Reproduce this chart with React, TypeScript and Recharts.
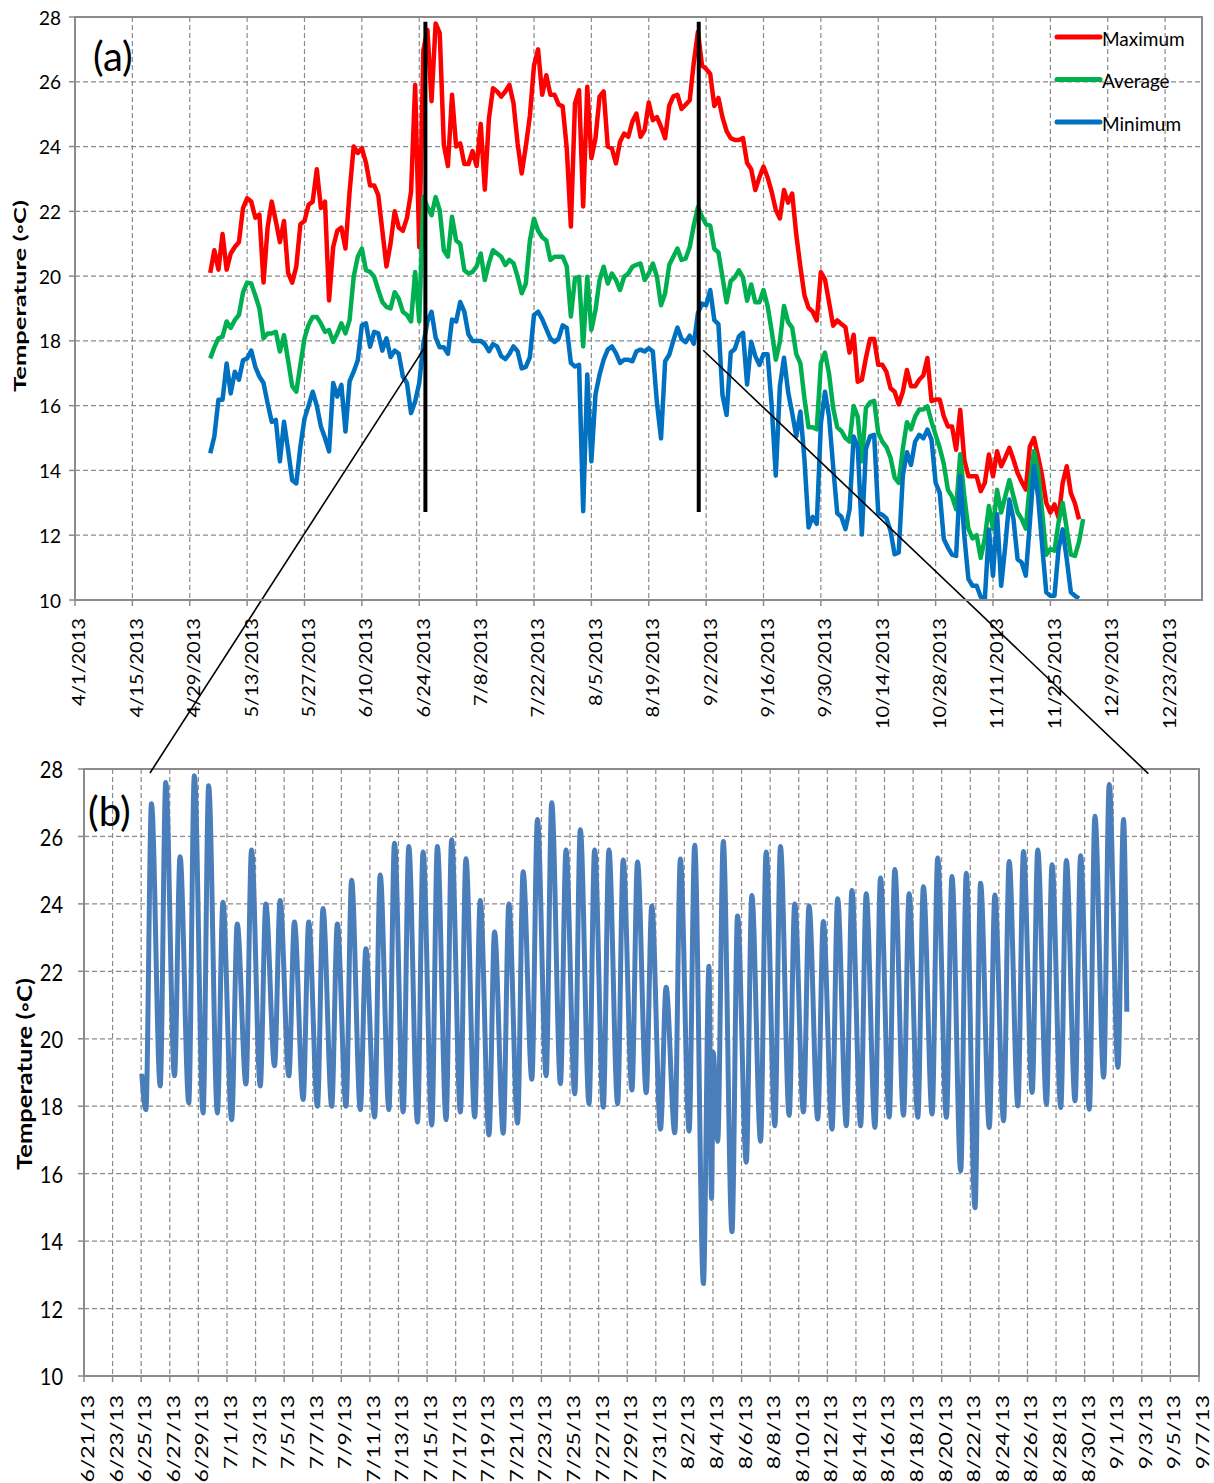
import React from 'react';
import { LineChart, Line, XAxis, YAxis, CartesianGrid, ReferenceLine, ReferenceArea, Legend } from 'recharts';

const FONT = "Lato, 'Open Sans', 'DejaVu Sans', sans-serif";
const GRID = '#8b8b8b';

const Y_TICKS = [10, 12, 14, 16, 18, 20, 22, 24, 26, 28];

// ---------- Panel (a): daily values, x = days since 4/1/2013 ----------
const A_TICK_LABELS = [
  '4/1/2013', '4/15/2013', '4/29/2013', '5/13/2013', '5/27/2013', '6/10/2013', '6/24/2013',
  '7/8/2013', '7/22/2013', '8/5/2013', '8/19/2013', '9/2/2013', '9/16/2013', '9/30/2013',
  '10/14/2013', '10/28/2013', '11/11/2013', '11/25/2013', '12/9/2013', '12/23/2013',
];
const A_TICK_STEP = 14;
const A_X_MAX = 275;
const A_FIRST_DAY = 33; // 5/4/2013
const LEGEND_ORDER = ['Maximum', 'Average', 'Minimum'];

// 5/4 - 6/24
const MAX_MAY_JUN = [
  20.1, 20.8, 20.2, 21.3, 20.2, 20.7, 20.9, 21.05, 22.1, 22.4,
  22.3, 21.8, 21.9, 19.8, 21.5, 22.3, 21.7, 21.05, 21.7, 20.1,
  19.8, 20.3, 21.6, 21.7, 22.2, 22.3, 23.3, 22.1, 22.3, 19.25,
  20.9, 21.4, 21.5, 20.85, 22.6, 24.0, 23.8, 23.95, 23.5, 22.8,
  22.8, 22.5, 21.4, 20.3, 21.0, 22.0, 21.5, 21.4, 21.8, 22.6,
  25.9, 20.9,
];
const AVG_MAY_JUN = [
  17.46, 17.8, 18.08, 18.13, 18.6, 18.4, 18.64, 18.8, 19.5, 19.8,
  19.77, 19.4, 19.0, 18.08, 18.23, 18.23, 18.28, 17.67, 18.18, 17.4,
  16.6, 16.43, 17.26, 18.08, 18.5, 18.74, 18.74, 18.54, 18.28, 18.33,
  17.97, 18.23, 18.54, 18.23, 18.64, 19.98, 20.6, 20.85, 20.18, 20.13,
  19.98, 19.57, 19.2, 19.05, 19.0, 19.5, 19.3, 18.9, 18.8, 18.6,
  20.13, 18.6,
];
const MIN_MAY_JUN = [
  14.53, 15.05, 16.18, 16.18, 17.3, 16.38, 17.05, 16.8, 17.4, 17.46,
  17.7, 17.2, 16.9, 16.7, 16.07, 15.5, 15.56, 14.28, 15.5, 14.63,
  13.7, 13.6, 14.74, 15.6, 16.0, 16.43, 16.0, 15.36, 15.0, 14.59,
  16.7, 16.28, 16.64, 15.2, 16.75, 17.05, 17.4, 18.48, 18.54, 17.82,
  18.28, 18.23, 17.7, 18.08, 17.5, 17.7, 17.6, 16.9, 16.7, 15.77,
  16.13, 16.7,
];
// 6/25 - 8/31
const AVG_JUN_AUG = [
  22.44, 22.13, 21.88, 22.44, 22.03, 20.8,
  20.6, 21.83, 21.1, 21.0, 20.18, 20.08, 20.13, 20.3, 20.7, 19.88,
  20.4, 20.8, 20.7, 20.6, 20.34, 20.5, 20.4, 19.98, 19.47, 19.77,
  21.1, 21.77, 21.4, 21.2, 21.1, 20.5, 20.6, 20.6, 20.6, 20.3, 18.75,
  19.93, 19.98, 17.83, 19.98, 18.34, 18.95, 19.88, 20.29, 19.77, 20.08,
  19.88, 19.57, 19.98, 20.08, 20.29, 20.35, 20.39, 19.88, 20.08, 20.39,
  19.98, 19.1, 19.47, 20.34, 20.6, 20.85, 20.5, 20.54, 20.9, 21.57, 22.13,
];
// 9/2 - 10/25
const MAX_SEP_OCT = [
  26.4, 26.24, 25.25, 25.5, 24.9, 24.48, 24.26, 24.2, 24.2, 24.26,
  23.49, 23.3, 22.66, 23.05, 23.38, 23.05, 22.6, 22.05, 21.78, 22.66,
  22.27, 22.55, 21.28, 20.29, 19.4, 19.02, 18.9, 18.63, 20.12,
  19.9, 19.19, 18.47, 18.63, 18.52, 18.42, 17.64, 18.19, 16.74, 16.8,
  17.48, 18.06, 18.06, 17.26, 17.26, 17.04, 16.54, 16.43, 16.04, 16.43,
  17.1, 16.6, 16.6, 16.8, 16.93,
];
const MIN_SEP_OCT = [
  19.1, 19.57, 18.64, 18.52, 16.32, 15.71, 17.64, 17.75, 18.14, 18.25,
  16.65, 17.97, 17.53, 17.26, 17.59, 17.59, 15.99, 13.84, 16.6, 17.48,
  16.43, 15.77, 15.05, 15.82, 14.33, 12.24, 12.57, 12.35, 15.44,
  16.43, 15.66, 14.11, 12.68, 12.57, 12.19, 12.79, 15.05, 14.72, 12.02,
  14.67, 15.05, 15.1, 12.68, 12.63, 12.52, 12.13, 11.41, 11.47, 13.84,
  14.56, 14.17, 14.89, 15.1, 14.99,
];
// 9/1 - 10/25
const AVG_SEP_OCT = [
  21.83, 21.6, 21.56, 20.84, 20.73, 19.96, 19.19, 19.85, 19.96, 20.18,
  19.96, 19.24, 19.74, 19.19, 19.19, 19.57, 19.08, 18.3, 17.42, 17.97,
  19.08, 18.58, 18.41, 17.59, 17.31, 16.21, 15.33, 15.33, 15.27, 17.31,
  17.64, 16.98, 15.93, 15.33, 15.22, 15.0, 14.89, 15.99, 15.66, 14.28,
  15.93, 16.1, 16.15, 15.16, 14.89, 14.72, 14.39, 13.78, 13.62, 14.67,
  15.49, 15.27, 15.66, 15.88, 15.88,
];
// 10/26 - 12/2
const MAX_NOV = [
  17.47, 16.14, 16.19, 16.19, 15.67, 15.36, 15.36, 14.64, 15.87, 14.33,
  13.82, 13.82, 13.82, 13.36, 13.61, 14.49, 13.82, 14.59, 14.13, 14.4,
  14.7, 14.33, 13.92, 13.65, 13.41, 14.74, 15.0, 14.43, 13.82, 13.0,
  12.7, 12.95, 12.54, 13.61, 14.13, 13.3, 12.98, 12.49,
];
const MIN_NOV = [
  15.26, 14.95, 13.62, 13.31, 11.88, 11.62, 11.4, 11.36, 13.82, 11.98,
  10.65, 10.44, 10.44, 10.1, 10.0, 12.18, 10.75, 12.65, 10.44, 11.67,
  13.1, 12.49, 11.26, 11.16, 10.75, 12.39, 14.13, 13.2, 11.67, 10.24,
  10.13, 10.13, 11.57, 12.18, 11.26, 10.24, 10.13, 10.05,
];
// 10/26 - 12/3
const AVG_NOV = [
  15.98, 15.5, 15.1, 14.7, 14.2, 13.4, 13.2, 12.8, 14.5, 13.2,
  12.2, 11.9, 12.0, 11.3, 11.9, 12.9, 12.2, 13.4, 12.7, 13.2,
  13.7, 13.2, 12.7, 12.5, 12.2, 13.6, 14.6, 14.0, 12.7, 11.4,
  11.57, 11.52, 12.4, 13.0, 12.2, 11.4, 11.36, 11.8, 12.5,
];

// ---------- Panel (b): 6/25 - 9/1 daily extremes, x = days since 6/21/2013 ----------
const B_TICK_LABELS = [
  '6/21/13', '6/23/13', '6/25/13', '6/27/13', '6/29/13',
  '7/1/13', '7/3/13', '7/5/13', '7/7/13', '7/9/13', '7/11/13', '7/13/13', '7/15/13',
  '7/17/13', '7/19/13', '7/21/13', '7/23/13', '7/25/13', '7/27/13', '7/29/13', '7/31/13',
  '8/2/13', '8/4/13', '8/6/13', '8/8/13', '8/10/13', '8/12/13', '8/14/13', '8/16/13',
  '8/18/13', '8/20/13', '8/22/13', '8/24/13', '8/26/13', '8/28/13', '8/30/13',
  '9/1/13', '9/3/13', '9/5/13', '9/7/13',
];
const B_TICK_STEP = 2;
const B_X_MAX = 78;
const B_FIRST_DAY = 4; // 6/25
const B_MIN_TIME = 0.33; // time of day of the daily minimum
const B_MAX_TIME = 0.72; // time of day of the daily maximum

const B_DAILY_MAX = [
  26.97, 27.6, 25.4, 27.8, 27.5, 24.05, 23.4, 25.6, 24.0, 24.1,
  23.46, 23.46, 23.86, 23.4, 24.7, 22.67, 24.86, 25.8, 25.7, 25.54,
  25.7, 25.9, 25.34, 24.1, 23.17, 24.0, 24.95, 26.5, 27.0, 25.6,
  26.2, 25.6, 25.6, 25.3, 25.24, 23.94, 21.53, 25.33, 25.74, 22.15,
  25.85, 23.64, 24.25, 25.54, 25.7, 24.0, 23.94, 23.48, 24.15, 24.4,
  24.3, 24.77, 25.02, 24.3, 24.51, 25.36, 24.81, 24.91, 24.61, 24.26,
  25.26, 25.55, 25.6, 25.16, 25.29, 25.43, 26.6, 27.54, 26.5,
];
const B_DAILY_MIN = [
  17.9, 18.6, 18.9, 18.1, 17.8, 17.8, 17.6, 18.66, 18.6, 19.2,
  18.9, 18.2, 18.0, 18.0, 18.0, 17.9, 17.68, 17.9, 17.83, 17.53,
  17.44, 17.6, 17.83, 17.68, 17.15, 17.2, 17.5, 18.8, 18.9, 18.67,
  18.37, 18.07, 17.97, 18.07, 18.48, 18.4, 17.32, 17.21, 17.26, 12.74,
  16.96, 14.28, 16.34, 16.96, 17.42, 17.73, 17.83, 17.62, 17.32, 17.42,
  17.42, 17.37, 17.68, 17.73, 17.67, 17.77, 17.67, 16.08, 14.99, 17.37,
  17.57, 18.01, 18.41, 18.06, 17.96, 18.16, 17.91, 18.86, 19.15,
];
const B_EXTRA_T = [4.04, 43.9, 44.02, 72.95];
const B_EXTRA_V = [18.96, 15.26, 19.6, 20.8];

// zoom window markers and connectors (data units of panel a)
const ZOOM_START_DAY = 85.5;
const ZOOM_END_DAY = 152.2;
const MARK_TOP = 27.85;
const MARK_BOTTOM = 12.72;

// ---------- build tables ----------
const A_TICKS = A_TICK_LABELS.map((_, i) => i * A_TICK_STEP);
const B_TICKS = B_TICK_LABELS.map((_, i) => i * B_TICK_STEP);

const aMax = [...MAX_MAY_JUN, ...B_DAILY_MAX, ...MAX_SEP_OCT, ...MAX_NOV];
const aMin = [...MIN_MAY_JUN, ...B_DAILY_MIN, ...MIN_SEP_OCT, ...MIN_NOV];
const aAvg = [...AVG_MAY_JUN, ...AVG_JUN_AUG, ...AVG_SEP_OCT, ...AVG_NOV];
const aData = aAvg.map((v, i) => ({
  t: A_FIRST_DAY + i,
  max: i < aMax.length ? aMax[i] : null,
  avg: v,
  min: i < aMin.length ? aMin[i] : null,
}));

const bData: { t: number; v: number }[] = [];
B_DAILY_MIN.forEach((mn, k) => {
  bData.push({ t: B_FIRST_DAY + k + B_MIN_TIME, v: mn });
  bData.push({ t: B_FIRST_DAY + k + B_MAX_TIME, v: B_DAILY_MAX[k] });
});
B_EXTRA_T.forEach((t, i) => bData.push({ t, v: B_EXTRA_V[i] }));
bData.sort((p, q) => p.t - q.t);

// ---------- ticks ----------
function DateTick(props: any) {
  const { x, y, payload, labels, step, fontSize, stretch, dx, dy } = props;
  const label = labels[Math.round(payload.value / step)];
  return (
    <text
      transform={`translate(${x + dx},${y + dy}) rotate(-90) scale(${stretch},1)`}
      textAnchor="end"
      dominantBaseline="central"
      fontSize={fontSize}
      fontFamily={FONT}
      fill="#000"
    >
      {label}
    </text>
  );
}

function ValueTick(props: any) {
  const { x, y, payload, fontSize, stretchY } = props;
  return (
    <text
      transform={`translate(${x},${y}) scale(1,${stretchY})`}
      textAnchor="end"
      dominantBaseline="central"
      fontSize={fontSize}
      fontFamily={FONT}
      fill="#000"
    >
      {payload.value}
    </text>
  );
}

function LegendBox(props: any) {
  const payload = [...(props.payload || [])].sort(
    (p: any, q: any) => LEGEND_ORDER.indexOf(p.value) - LEGEND_ORDER.indexOf(q.value)
  );
  return (
    <svg width={160} height={125} style={{ display: 'block' }}>
      {payload.map((p: any, i: number) => (
        <g key={p.value} transform={`translate(0,${21 + i * 42.5})`}>
          <line x1={7} x2={50} y1={0} y2={0} stroke={p.color} strokeWidth={5} strokeLinecap="round" />
          <text x={52} y={1} dominantBaseline="central" fontSize={19} fontFamily={FONT} fill="#000">
            {p.value}
          </text>
        </g>
      ))}
    </svg>
  );
}

function ChartA() {
  return (
    <LineChart width={1214} height={720} data={aData} margin={{ top: 17, right: 12, bottom: 0, left: 0 }}>
      <CartesianGrid stroke={GRID} strokeDasharray="5 3" strokeWidth={1.2} />
      <XAxis
        dataKey="t"
        type="number"
        domain={[0, A_X_MAX]}
        ticks={A_TICKS}
        interval={0}
        allowDataOverflow
        height={120}
        tickSize={6}
        tickMargin={0}
        axisLine={{ stroke: GRID, strokeWidth: 2 }}
        tickLine={{ stroke: GRID, strokeWidth: 1.5 }}
        tick={(p: any) => (
          <DateTick {...p} labels={A_TICK_LABELS} step={A_TICK_STEP} fontSize={17} stretch={1.18} dx={4} dy={12} />
        )}
      />
      <YAxis
        type="number"
        domain={[10, 28]}
        ticks={Y_TICKS}
        interval={0}
        allowDataOverflow
        width={75}
        tickSize={6}
        tickMargin={8}
        axisLine={{ stroke: GRID, strokeWidth: 2 }}
        tickLine={{ stroke: GRID, strokeWidth: 1.5 }}
        tick={(p: any) => <ValueTick {...p} fontSize={19} stretchY={1.0} />}
      />
      <ReferenceArea x1={0} x2={A_X_MAX} y1={10} y2={28} fill="none" stroke={GRID} strokeWidth={2} ifOverflow="visible" />
      <Line name="Maximum" dataKey="max" stroke="#FF0000" strokeWidth={4.5} dot={false} activeDot={false} isAnimationActive={false} strokeLinejoin="round" />
      <Line name="Average" dataKey="avg" stroke="#00B050" strokeWidth={4.5} dot={false} activeDot={false} isAnimationActive={false} strokeLinejoin="round" />
      <Line name="Minimum" dataKey="min" stroke="#0070C0" strokeWidth={4.5} dot={false} activeDot={false} isAnimationActive={false} strokeLinejoin="round" />
      <ReferenceLine segment={[{ x: ZOOM_START_DAY, y: MARK_TOP }, { x: ZOOM_START_DAY, y: MARK_BOTTOM }]} stroke="#000" strokeWidth={4} ifOverflow="visible" />
      <ReferenceLine segment={[{ x: ZOOM_END_DAY, y: MARK_TOP }, { x: ZOOM_END_DAY, y: MARK_BOTTOM }]} stroke="#000" strokeWidth={4} ifOverflow="visible" />
      <ReferenceLine segment={[{ x: 85.53, y: 17.84 }, { x: 18.3, y: 4.66 }]} stroke="#000" strokeWidth={1.6} ifOverflow="visible" />
      <ReferenceLine segment={[{ x: 153.3, y: 17.71 }, { x: 261.9, y: 4.64 }]} stroke="#000" strokeWidth={1.6} ifOverflow="visible" />
      <Legend
        layout="horizontal"
        verticalAlign="middle"
        align="center"
        content={(p: any) => <LegendBox {...p} />}
        wrapperStyle={{ left: 1050, top: 16, width: 160, height: 125 }}
      />
    </LineChart>
  );
}

function ChartB() {
  return (
    <LineChart width={1214} height={743} data={bData} margin={{ top: 29, right: 15, bottom: 0, left: 0 }}>
      <CartesianGrid stroke={GRID} strokeDasharray="5 3" strokeWidth={1.2} />
      <XAxis
        dataKey="t"
        type="number"
        domain={[0, B_X_MAX]}
        ticks={B_TICKS}
        interval={0}
        allowDataOverflow
        height={107}
        tickSize={6}
        tickMargin={0}
        axisLine={{ stroke: GRID, strokeWidth: 2 }}
        tickLine={{ stroke: GRID, strokeWidth: 1.5 }}
        tick={(p: any) => (
          <DateTick {...p} labels={B_TICK_LABELS} step={B_TICK_STEP} fontSize={18} stretch={1.28} dx={3} dy={13} />
        )}
      />
      <YAxis
        type="number"
        domain={[10, 28]}
        ticks={Y_TICKS}
        interval={0}
        allowDataOverflow
        width={84}
        tickSize={6}
        tickMargin={15}
        axisLine={{ stroke: GRID, strokeWidth: 2 }}
        tickLine={{ stroke: GRID, strokeWidth: 1.5 }}
        tick={(p: any) => <ValueTick {...p} fontSize={20} stretchY={1.18} />}
      />
      <ReferenceArea x1={0} x2={B_X_MAX} y1={10} y2={28} fill="none" stroke={GRID} strokeWidth={2} ifOverflow="visible" />
      <Line type="monotone" dataKey="v" stroke="#4A7EBB" strokeWidth={5} dot={false} activeDot={false} isAnimationActive={false} strokeLinejoin="round" />
    </LineChart>
  );
}

export default function App() {
  return (
    <div style={{ position: 'relative', width: 1214, height: 1483, background: '#fff', fontFamily: FONT }}>
      <style>{`body{margin:0;background:#fff} .recharts-wrapper,.recharts-surface{overflow:visible !important}`}</style>
      <div style={{ position: 'absolute', left: 0, top: 740 }}>
        <ChartB />
      </div>
      <div style={{ position: 'absolute', left: 0, top: 0 }}>
        <ChartA />
      </div>
      <svg width={1214} height={1483} style={{ position: 'absolute', left: 0, top: 0, pointerEvents: 'none' }}>
        <text x={93} y={71} fontSize={40} fontFamily={FONT} fill="#000">(a)</text>
        <text x={88} y={826} fontSize={40} fontFamily={FONT} fill="#000">(b)</text>
        <text
          transform="translate(19.5,296) rotate(-90)"
          textAnchor="middle"
          dominantBaseline="central"
          fontSize={17}
          fontWeight="bold"
          fontFamily={FONT}
          textLength={192}
          lengthAdjust="spacingAndGlyphs"
          fill="#000"
        >
          Temperature (◦C)
        </text>
        <text
          transform="translate(24,1074) rotate(-90)"
          textAnchor="middle"
          dominantBaseline="central"
          fontSize={20}
          fontWeight="bold"
          fontFamily={FONT}
          textLength={192}
          lengthAdjust="spacingAndGlyphs"
          fill="#000"
        >
          Temperature (◦C)
        </text>
      </svg>
    </div>
  );
}
